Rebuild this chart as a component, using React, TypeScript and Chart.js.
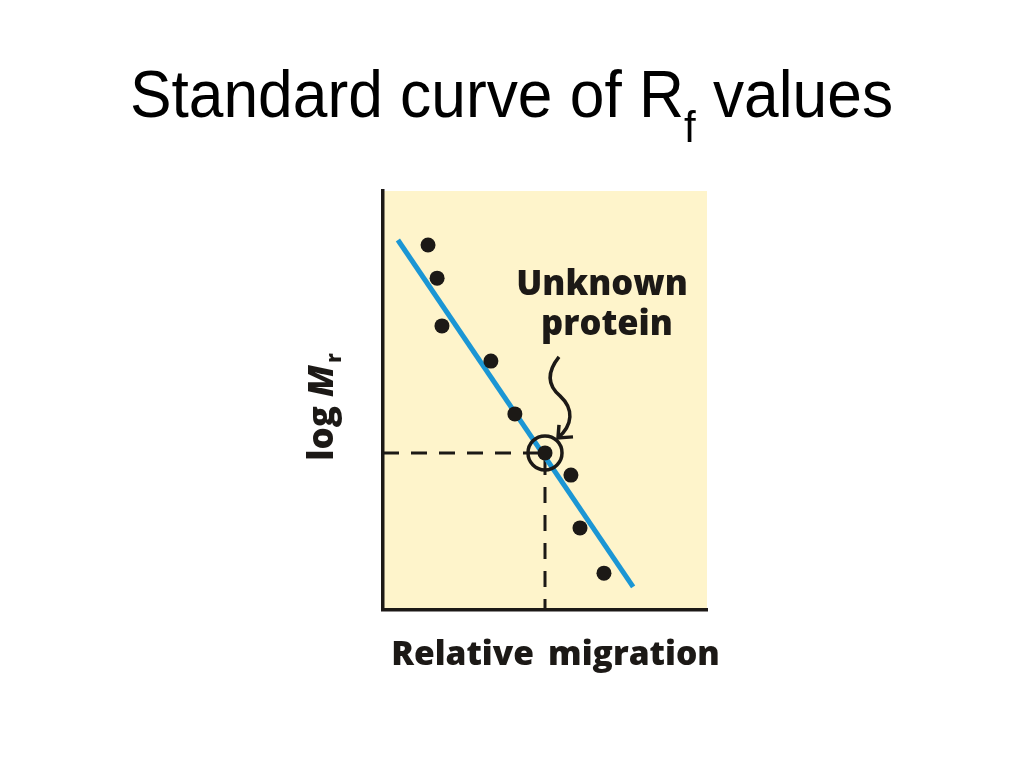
import { useEffect, useRef } from "react";
import { Chart, registerables } from "chart.js";

Chart.register(...registerables);

// ---- Data (arbitrary 0–100 units) ----
const standardX = [13.9, 16.7, 18.2, 33.3, 40.7, 58.0, 60.8, 68.2];
const standardY = [87.1, 79.2, 67.8, 59.4, 46.8, 32.2, 19.6, 8.8];
const unknownX = [50.0];
const unknownY = [37.5];
const fitX = [4.6, 77.2];
const fitY = [88.3, 5.5];

// ---- Text ----
const TITLE_MAIN = "Standard curve of R";
const TITLE_SUB = "f";
const TITLE_TAIL = " values";
const X_LABEL_WORDS = ["Relative", "migration"];
const Y_LABEL_PARTS = ["log ", "M", "r"];
const ANNOTATION_LINES = ["Unknown", "protein"];

// ---- Styles ----
const PLOT_BG = "#FEF4CB";
const INK = "#1c1916";
const FIT_COLOR = "#1B96D4";
const LABEL_FONT = '"Open Sans", "DejaVu Sans", sans-serif';
const TITLE_FONT = '"Liberation Sans", Arial, sans-serif';

export default function App() {
  const ref = useRef<HTMLCanvasElement>(null);

  useEffect(() => {
    if (!ref.current) return;

    const bgPlugin = {
      id: "bg",
      beforeDraw(chart: any) {
        const { ctx, chartArea: a } = chart;
        ctx.save();
        ctx.fillStyle = "#ffffff";
        ctx.fillRect(0, 0, chart.width, chart.height);
        ctx.fillStyle = PLOT_BG;
        ctx.fillRect(a.left, a.top, a.right - a.left, a.bottom - a.top);
        ctx.restore();
      },
    };

    const textPlugin = {
      id: "texts",
      afterDraw(chart: any) {
        const { ctx, chartArea: a } = chart;
        const xs = chart.scales.x;
        const ys = chart.scales.y;
        ctx.save();
        ctx.fillStyle = "#000";
        ctx.textBaseline = "alphabetic";
        ctx.textAlign = "left";

        // Title with subscript
        const mainFont = `62.3px ${TITLE_FONT}`;
        const subFont = `42px ${TITLE_FONT}`;
        ctx.font = mainFont;
        const w1 = ctx.measureText(TITLE_MAIN).width;
        const w3 = ctx.measureText(TITLE_TAIL).width;
        ctx.font = subFont;
        const w2 = ctx.measureText(TITLE_SUB).width;
        const total = w1 + w2 + w3;
        const cx = 511.5;
        const tx = cx - total / 2;
        ctx.save();
        ctx.translate(0, 117);
        ctx.scale(1, 1.07);
        ctx.font = mainFont;
        ctx.fillText(TITLE_MAIN, tx, 0);
        ctx.font = subFont;
        ctx.fillText(TITLE_SUB, tx + w1, 23);
        ctx.font = mainFont;
        ctx.fillText(TITLE_TAIL, tx + w1 + w2, 0);
        ctx.restore();

        ctx.fillStyle = INK;

        // X axis label
        ctx.font = `800 33.6px ${LABEL_FONT}`;
        const wa = ctx.measureText(X_LABEL_WORDS[0]).width;
        const wb = ctx.measureText(X_LABEL_WORDS[1]).width;
        const gap = 14;
        const xl = 555.5 - (wa + gap + wb) / 2;
        ctx.fillText(X_LABEL_WORDS[0], xl, a.bottom + 55);
        ctx.fillText(X_LABEL_WORDS[1], xl + wa + gap, a.bottom + 55);

        // Y axis label (rotated)
        ctx.save();
        ctx.translate(a.left - 50, 407);
        ctx.rotate(-Math.PI / 2);
        const f1 = `800 35px ${LABEL_FONT}`;
        const f2 = `italic 800 35px ${LABEL_FONT}`;
        const f3 = `800 21px ${LABEL_FONT}`;
        ctx.font = f1;
        const yw1 = ctx.measureText(Y_LABEL_PARTS[0]).width;
        ctx.font = f2;
        const yw2 = ctx.measureText(Y_LABEL_PARTS[1]).width;
        ctx.font = f3;
        const yw3 = ctx.measureText(Y_LABEL_PARTS[2]).width;
        const yx = -(yw1 + yw2 + yw3 + 2) / 2;
        ctx.font = f1;
        ctx.fillText(Y_LABEL_PARTS[0], yx, 0);
        ctx.font = f2;
        ctx.fillText(Y_LABEL_PARTS[1], yx + yw1, 0);
        ctx.font = f3;
        ctx.fillText(Y_LABEL_PARTS[2], yx + yw1 + yw2 + 2, 8);
        ctx.restore();

        // Annotation text and curved arrow, anchored on the unknown point
        const px = xs.getPixelForValue(unknownX[0]);
        const py = ys.getPixelForValue(unknownY[0]);
        ctx.font = `800 34.5px ${LABEL_FONT}`;
        ctx.textAlign = "center";
        ctx.fillText(ANNOTATION_LINES[0], px + 57, py - 158);
        ctx.fillText(ANNOTATION_LINES[1], px + 62, py - 118);

        ctx.strokeStyle = INK;
        ctx.lineWidth = 3.5;
        ctx.lineCap = "butt";
        ctx.lineJoin = "miter";
        ctx.beginPath();
        ctx.moveTo(px + 14, py - 96);
        ctx.bezierCurveTo(px + 2, py - 81, px + 2, py - 68, px + 15, py - 57);
        ctx.bezierCurveTo(px + 29, py - 44, px + 28, py - 28, px + 13, py - 15);
        ctx.stroke();
        ctx.beginPath();
        ctx.moveTo(px + 14, py - 28);
        ctx.lineTo(px + 13, py - 15);
        ctx.lineTo(px + 28, py - 16);
        ctx.stroke();

        ctx.restore();
      },
    };

    const pts = (xsArr: number[], ysArr: number[]) =>
      xsArr.map((x, i) => ({ x, y: ysArr[i] }));

    const guide = [
      { x: 0, y: unknownY[0] },
      { x: unknownX[0], y: unknownY[0] },
      { x: unknownX[0], y: 0 },
    ];

    const chart = new Chart(ref.current, {
      type: "scatter",
      data: {
        datasets: [
          {
            label: "ring",
            data: pts(unknownX, unknownY),
            pointRadius: 17,
            pointBackgroundColor: "rgba(0,0,0,0)",
            pointBorderColor: INK,
            pointBorderWidth: 3.5,
            order: 0,
          },
          {
            label: "unknown",
            data: pts(unknownX, unknownY),
            pointRadius: 7.5,
            pointBackgroundColor: INK,
            pointBorderWidth: 0,
            order: 1,
          },
          {
            label: "standards",
            data: pts(standardX, standardY),
            pointRadius: 7.5,
            pointBackgroundColor: INK,
            pointBorderWidth: 0,
            order: 2,
          },
          {
            label: "fit",
            data: pts(fitX, fitY),
            showLine: true,
            borderColor: FIT_COLOR,
            borderWidth: 5,
            pointRadius: 0,
            order: 3,
          },
          {
            label: "guide",
            data: guide,
            showLine: true,
            borderColor: INK,
            borderWidth: 3,
            borderDash: [16, 12],
            pointRadius: 0,
            order: 4,
          },
        ] as any,
      },
      options: {
        responsive: false,
        animation: false,
        events: [],
        layout: { padding: { left: 383, right: 317, top: 191, bottom: 158 } },
        plugins: {
          legend: { display: false },
          tooltip: { enabled: false },
          title: { display: false },
        },
        scales: {
          x: {
            type: "linear",
            min: 0,
            max: 100,
            ticks: { display: false },
            grid: { display: false, drawTicks: false },
            border: { display: true, color: INK, width: 3.5 },
            afterFit: (s: any) => {
              s.height = 0;
            },
          },
          y: {
            type: "linear",
            min: 0,
            max: 100,
            ticks: { display: false },
            grid: { display: false, drawTicks: false },
            border: { display: true, color: INK, width: 3.5 },
            afterFit: (s: any) => {
              s.width = 0;
            },
          },
        },
      } as any,
      plugins: [bgPlugin, textPlugin],
    });

    return () => chart.destroy();
  }, []);

  return (
    <div
      style={{
        position: "fixed",
        left: 0,
        top: 0,
        width: 1024,
        height: 768,
        background: "#fff",
      }}
    >
      <canvas ref={ref} width={1024} height={768} style={{ display: "block" }} />
    </div>
  );
}
